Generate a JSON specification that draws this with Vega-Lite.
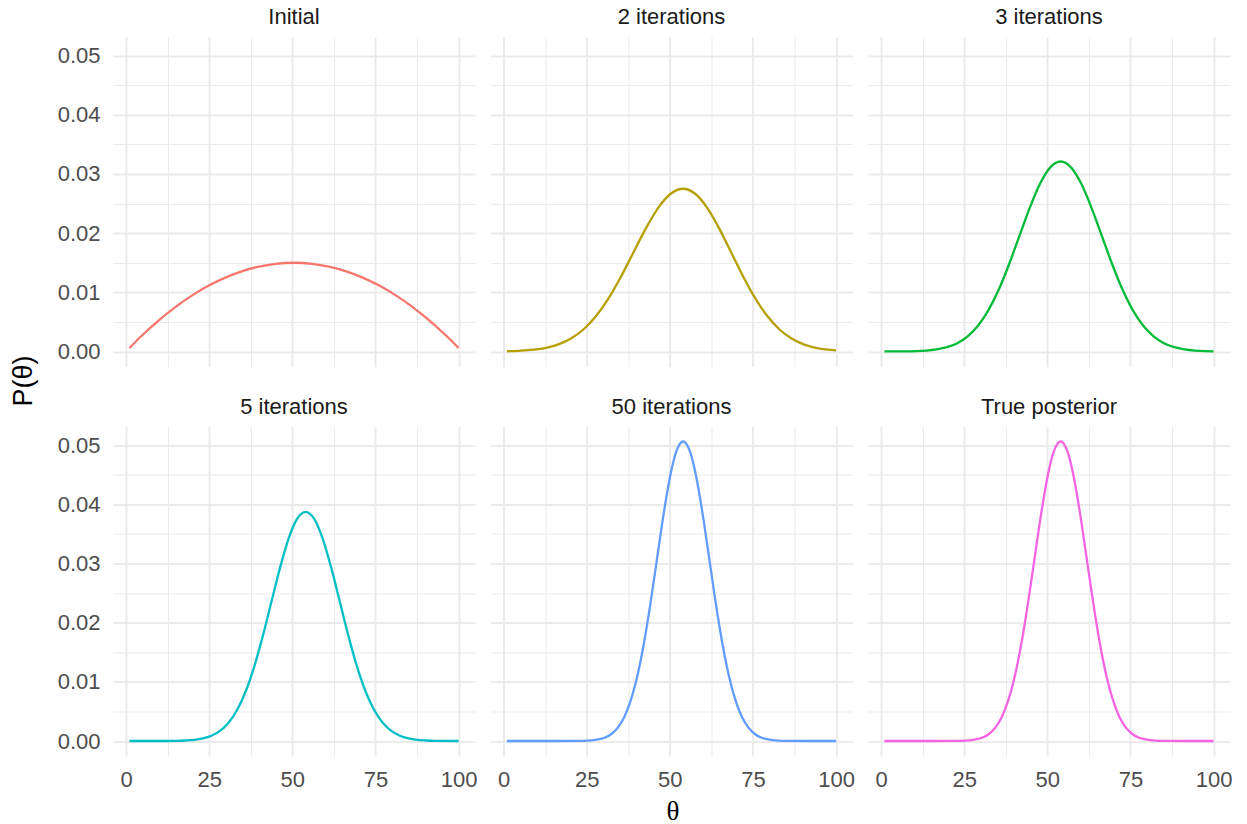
{
  "$schema": "https://vega.github.io/schema/vega-lite/v6.json",
  "padding": {"left": 10, "top": 6, "right": 5, "bottom": 2},
  "background": "white",
  "title": {
    "text": "θ",
    "orient": "bottom",
    "anchor": "middle",
    "frame": "bounds",
    "dx": 52,
    "font": "Liberation Serif",
    "fontSize": 27,
    "fontWeight": "normal",
    "color": "#000000",
    "offset": 9
  },
  "config": {
    "font": "Liberation Sans",
    "view": {"stroke": null}
  },
  "datasets": {
    "curves": [
      {"panel": "Initial", "theta": 1, "p": 0.0006},
      {"panel": "Initial", "theta": 5, "p": 0.00283},
      {"panel": "Initial", "theta": 10, "p": 0.00536},
      {"panel": "Initial", "theta": 15, "p": 0.00759},
      {"panel": "Initial", "theta": 20, "p": 0.00953},
      {"panel": "Initial", "theta": 25, "p": 0.01118},
      {"panel": "Initial", "theta": 30, "p": 0.01253},
      {"panel": "Initial", "theta": 35, "p": 0.01359},
      {"panel": "Initial", "theta": 40, "p": 0.01435},
      {"panel": "Initial", "theta": 45, "p": 0.01482},
      {"panel": "Initial", "theta": 50.5, "p": 0.015},
      {"panel": "Initial", "theta": 56, "p": 0.01482},
      {"panel": "Initial", "theta": 61, "p": 0.01435},
      {"panel": "Initial", "theta": 66, "p": 0.01359},
      {"panel": "Initial", "theta": 71, "p": 0.01253},
      {"panel": "Initial", "theta": 76, "p": 0.01118},
      {"panel": "Initial", "theta": 81, "p": 0.00953},
      {"panel": "Initial", "theta": 86, "p": 0.00759},
      {"panel": "Initial", "theta": 91, "p": 0.00536},
      {"panel": "Initial", "theta": 96, "p": 0.00283},
      {"panel": "Initial", "theta": 100, "p": 0.0006},

      {"panel": "2 iterations", "theta": 1, "p": 0.00005},
      {"panel": "2 iterations", "theta": 5.25, "p": 0.00014},
      {"panel": "2 iterations", "theta": 9, "p": 0.00031},
      {"panel": "2 iterations", "theta": 12.75, "p": 0.00063},
      {"panel": "2 iterations", "theta": 16.5, "p": 0.00121},
      {"panel": "2 iterations", "theta": 20.25, "p": 0.00219},
      {"panel": "2 iterations", "theta": 24, "p": 0.00372},
      {"panel": "2 iterations", "theta": 27.75, "p": 0.00595},
      {"panel": "2 iterations", "theta": 31.5, "p": 0.00893},
      {"panel": "2 iterations", "theta": 35.25, "p": 0.01259},
      {"panel": "2 iterations", "theta": 39, "p": 0.01668},
      {"panel": "2 iterations", "theta": 42.75, "p": 0.02076},
      {"panel": "2 iterations", "theta": 46.5, "p": 0.02427},
      {"panel": "2 iterations", "theta": 50.25, "p": 0.02665},
      {"panel": "2 iterations", "theta": 54, "p": 0.0275},
      {"panel": "2 iterations", "theta": 57.625, "p": 0.02665},
      {"panel": "2 iterations", "theta": 61.25, "p": 0.02427},
      {"panel": "2 iterations", "theta": 64.875, "p": 0.02076},
      {"panel": "2 iterations", "theta": 68.5, "p": 0.01668},
      {"panel": "2 iterations", "theta": 72.125, "p": 0.01259},
      {"panel": "2 iterations", "theta": 75.75, "p": 0.00893},
      {"panel": "2 iterations", "theta": 79.375, "p": 0.00595},
      {"panel": "2 iterations", "theta": 83, "p": 0.00372},
      {"panel": "2 iterations", "theta": 86.625, "p": 0.00219},
      {"panel": "2 iterations", "theta": 90.25, "p": 0.00121},
      {"panel": "2 iterations", "theta": 93.875, "p": 0.00063},
      {"panel": "2 iterations", "theta": 97.5, "p": 0.00031},
      {"panel": "2 iterations", "theta": 100, "p": 0.00018},

      {"panel": "3 iterations", "theta": 1, "p": 0.00001},
      {"panel": "3 iterations", "theta": 7.39, "p": 0.00003},
      {"panel": "3 iterations", "theta": 10.5, "p": 0.00007},
      {"panel": "3 iterations", "theta": 13.6, "p": 0.00016},
      {"panel": "3 iterations", "theta": 16.71, "p": 0.00036},
      {"panel": "3 iterations", "theta": 19.82, "p": 0.00073},
      {"panel": "3 iterations", "theta": 22.93, "p": 0.00141},
      {"panel": "3 iterations", "theta": 26.03, "p": 0.00256},
      {"panel": "3 iterations", "theta": 29.14, "p": 0.00434},
      {"panel": "3 iterations", "theta": 32.25, "p": 0.00694},
      {"panel": "3 iterations", "theta": 35.36, "p": 0.01042},
      {"panel": "3 iterations", "theta": 38.46, "p": 0.0147},
      {"panel": "3 iterations", "theta": 41.57, "p": 0.01947},
      {"panel": "3 iterations", "theta": 44.68, "p": 0.02423},
      {"panel": "3 iterations", "theta": 47.79, "p": 0.02833},
      {"panel": "3 iterations", "theta": 50.89, "p": 0.03111},
      {"panel": "3 iterations", "theta": 54, "p": 0.0321},
      {"panel": "3 iterations", "theta": 57.11, "p": 0.03111},
      {"panel": "3 iterations", "theta": 60.22, "p": 0.02833},
      {"panel": "3 iterations", "theta": 63.32, "p": 0.02423},
      {"panel": "3 iterations", "theta": 66.43, "p": 0.01947},
      {"panel": "3 iterations", "theta": 69.54, "p": 0.0147},
      {"panel": "3 iterations", "theta": 72.65, "p": 0.01042},
      {"panel": "3 iterations", "theta": 75.75, "p": 0.00694},
      {"panel": "3 iterations", "theta": 78.86, "p": 0.00434},
      {"panel": "3 iterations", "theta": 81.97, "p": 0.00256},
      {"panel": "3 iterations", "theta": 85.08, "p": 0.00141},
      {"panel": "3 iterations", "theta": 88.18, "p": 0.00073},
      {"panel": "3 iterations", "theta": 91.29, "p": 0.00036},
      {"panel": "3 iterations", "theta": 94.4, "p": 0.00016},
      {"panel": "3 iterations", "theta": 97.51, "p": 0.00007},
      {"panel": "3 iterations", "theta": 100, "p": 0.00004},

      {"panel": "5 iterations", "theta": 1, "p": 0},
      {"panel": "5 iterations", "theta": 10, "p": 0},
      {"panel": "5 iterations", "theta": 15.34, "p": 0.00003},
      {"panel": "5 iterations", "theta": 17.92, "p": 0.00009},
      {"panel": "5 iterations", "theta": 20.49, "p": 0.0002},
      {"panel": "5 iterations", "theta": 23.07, "p": 0.00043},
      {"panel": "5 iterations", "theta": 25.65, "p": 0.00088},
      {"panel": "5 iterations", "theta": 28.23, "p": 0.0017},
      {"panel": "5 iterations", "theta": 30.8, "p": 0.00308},
      {"panel": "5 iterations", "theta": 33.38, "p": 0.00524},
      {"panel": "5 iterations", "theta": 35.96, "p": 0.00837},
      {"panel": "5 iterations", "theta": 38.54, "p": 0.01257},
      {"panel": "5 iterations", "theta": 41.11, "p": 0.01772},
      {"panel": "5 iterations", "theta": 43.69, "p": 0.02347},
      {"panel": "5 iterations", "theta": 46.27, "p": 0.02921},
      {"panel": "5 iterations", "theta": 48.85, "p": 0.03415},
      {"panel": "5 iterations", "theta": 51.42, "p": 0.03751},
      {"panel": "5 iterations", "theta": 54, "p": 0.0387},
      {"panel": "5 iterations", "theta": 56.58, "p": 0.03751},
      {"panel": "5 iterations", "theta": 59.15, "p": 0.03415},
      {"panel": "5 iterations", "theta": 61.73, "p": 0.02921},
      {"panel": "5 iterations", "theta": 64.31, "p": 0.02347},
      {"panel": "5 iterations", "theta": 66.89, "p": 0.01772},
      {"panel": "5 iterations", "theta": 69.46, "p": 0.01257},
      {"panel": "5 iterations", "theta": 72.04, "p": 0.00837},
      {"panel": "5 iterations", "theta": 74.62, "p": 0.00524},
      {"panel": "5 iterations", "theta": 77.2, "p": 0.00308},
      {"panel": "5 iterations", "theta": 79.78, "p": 0.0017},
      {"panel": "5 iterations", "theta": 82.35, "p": 0.00088},
      {"panel": "5 iterations", "theta": 84.93, "p": 0.00043},
      {"panel": "5 iterations", "theta": 87.51, "p": 0.0002},
      {"panel": "5 iterations", "theta": 90.08, "p": 0.00009},
      {"panel": "5 iterations", "theta": 92.66, "p": 0.00003},
      {"panel": "5 iterations", "theta": 100, "p": 0},

      {"panel": "50 iterations", "theta": 1, "p": 0},
      {"panel": "50 iterations", "theta": 15, "p": 0},
      {"panel": "50 iterations", "theta": 24.45, "p": 0.00004},
      {"panel": "50 iterations", "theta": 26.42, "p": 0.00011},
      {"panel": "50 iterations", "theta": 28.39, "p": 0.00026},
      {"panel": "50 iterations", "theta": 30.36, "p": 0.00056},
      {"panel": "50 iterations", "theta": 32.33, "p": 0.00115},
      {"panel": "50 iterations", "theta": 34.3, "p": 0.00222},
      {"panel": "50 iterations", "theta": 36.27, "p": 0.00403},
      {"panel": "50 iterations", "theta": 38.24, "p": 0.00685},
      {"panel": "50 iterations", "theta": 40.21, "p": 0.01094},
      {"panel": "50 iterations", "theta": 42.18, "p": 0.01643},
      {"panel": "50 iterations", "theta": 44.15, "p": 0.02316},
      {"panel": "50 iterations", "theta": 46.12, "p": 0.03069},
      {"panel": "50 iterations", "theta": 48.09, "p": 0.03819},
      {"panel": "50 iterations", "theta": 50.06, "p": 0.04465},
      {"panel": "50 iterations", "theta": 52.03, "p": 0.04904},
      {"panel": "50 iterations", "theta": 54, "p": 0.0506},
      {"panel": "50 iterations", "theta": 55.97, "p": 0.04904},
      {"panel": "50 iterations", "theta": 57.94, "p": 0.04465},
      {"panel": "50 iterations", "theta": 59.91, "p": 0.03819},
      {"panel": "50 iterations", "theta": 61.88, "p": 0.03069},
      {"panel": "50 iterations", "theta": 63.85, "p": 0.02316},
      {"panel": "50 iterations", "theta": 65.82, "p": 0.01643},
      {"panel": "50 iterations", "theta": 67.79, "p": 0.01094},
      {"panel": "50 iterations", "theta": 69.76, "p": 0.00685},
      {"panel": "50 iterations", "theta": 71.73, "p": 0.00403},
      {"panel": "50 iterations", "theta": 73.7, "p": 0.00222},
      {"panel": "50 iterations", "theta": 75.67, "p": 0.00115},
      {"panel": "50 iterations", "theta": 77.64, "p": 0.00056},
      {"panel": "50 iterations", "theta": 79.61, "p": 0.00026},
      {"panel": "50 iterations", "theta": 81.58, "p": 0.00011},
      {"panel": "50 iterations", "theta": 83.55, "p": 0.00004},
      {"panel": "50 iterations", "theta": 93, "p": 0},
      {"panel": "50 iterations", "theta": 100, "p": 0},

      {"panel": "True posterior", "theta": 1, "p": 0},
      {"panel": "True posterior", "theta": 15, "p": 0},
      {"panel": "True posterior", "theta": 24.45, "p": 0.00004},
      {"panel": "True posterior", "theta": 26.42, "p": 0.00011},
      {"panel": "True posterior", "theta": 28.39, "p": 0.00026},
      {"panel": "True posterior", "theta": 30.36, "p": 0.00056},
      {"panel": "True posterior", "theta": 32.33, "p": 0.00115},
      {"panel": "True posterior", "theta": 34.3, "p": 0.00222},
      {"panel": "True posterior", "theta": 36.27, "p": 0.00403},
      {"panel": "True posterior", "theta": 38.24, "p": 0.00685},
      {"panel": "True posterior", "theta": 40.21, "p": 0.01094},
      {"panel": "True posterior", "theta": 42.18, "p": 0.01643},
      {"panel": "True posterior", "theta": 44.15, "p": 0.02316},
      {"panel": "True posterior", "theta": 46.12, "p": 0.03069},
      {"panel": "True posterior", "theta": 48.09, "p": 0.03819},
      {"panel": "True posterior", "theta": 50.06, "p": 0.04465},
      {"panel": "True posterior", "theta": 52.03, "p": 0.04904},
      {"panel": "True posterior", "theta": 54, "p": 0.0506},
      {"panel": "True posterior", "theta": 55.97, "p": 0.04904},
      {"panel": "True posterior", "theta": 57.94, "p": 0.04465},
      {"panel": "True posterior", "theta": 59.91, "p": 0.03819},
      {"panel": "True posterior", "theta": 61.88, "p": 0.03069},
      {"panel": "True posterior", "theta": 63.85, "p": 0.02316},
      {"panel": "True posterior", "theta": 65.82, "p": 0.01643},
      {"panel": "True posterior", "theta": 67.79, "p": 0.01094},
      {"panel": "True posterior", "theta": 69.76, "p": 0.00685},
      {"panel": "True posterior", "theta": 71.73, "p": 0.00403},
      {"panel": "True posterior", "theta": 73.7, "p": 0.00222},
      {"panel": "True posterior", "theta": 75.67, "p": 0.00115},
      {"panel": "True posterior", "theta": 77.64, "p": 0.00056},
      {"panel": "True posterior", "theta": 79.61, "p": 0.00026},
      {"panel": "True posterior", "theta": 81.58, "p": 0.00011},
      {"panel": "True posterior", "theta": 83.55, "p": 0.00004},
      {"panel": "True posterior", "theta": 93, "p": 0},
      {"panel": "True posterior", "theta": 100, "p": 0}
    ]
  },
  "data": {"name": "curves"},
  "facet": {
    "field": "panel",
    "type": "nominal",
    "sort": ["Initial", "2 iterations", "3 iterations", "5 iterations", "50 iterations", "True posterior"],
    "title": "P(θ)",
    "header": {
      "titleOrient": "left",
      "titleAngle": -90,
      "titleFont": "Liberation Sans",
      "titleFontSize": 27,
      "titleFontWeight": "normal",
      "titleColor": "#000000",
      "titlePadding": -8,
      "labelFont": "Liberation Sans",
      "labelFontSize": 22,
      "labelColor": "#1A1A1A",
      "labelPadding": 8
    }
  },
  "columns": 3,
  "spacing": {"column": 15.5, "row": 28.5},
  "spec": {
    "width": 362,
    "height": 329.5,
    "mark": {"type": "line", "strokeWidth": 2.3, "interpolate": "monotone"},
    "encoding": {
      "x": {
        "field": "theta",
        "type": "quantitative",
        "scale": {"domain": [-3.95, 104.95], "nice": false, "zero": false},
        "axis": {
          "title": null,
          "values": [0, 12.5, 25, 37.5, 50, 62.5, 75, 87.5, 100],
          "labelExpr": "datum.value % 25 == 0 ? datum.label : ''",
          "labelFontSize": 22,
          "labelColor": "#4D4D4D",
          "labelPadding": 13,
          "labelFlush": false,
          "labelOverlap": false,
          "labelBound": false,
          "ticks": false,
          "tickSize": 0,
          "domain": false,
          "gridColor": "#EBEBEB",
          "gridWidth": {"condition": {"test": "datum.value % 25 != 0", "value": 1}, "value": 2}
        }
      },
      "y": {
        "field": "p",
        "type": "quantitative",
        "scale": {"domain": [-0.00253, 0.05313], "nice": false, "zero": false},
        "axis": {
          "title": null,
          "values": [0, 0.005, 0.01, 0.015, 0.02, 0.025, 0.03, 0.035, 0.04, 0.045, 0.05],
          "labelExpr": "abs(datum.value * 100 - round(datum.value * 100)) < 0.000001 ? format(datum.value, '.2f') : ''",
          "labelFontSize": 22,
          "labelColor": "#4D4D4D",
          "labelPadding": 13,
          "labelFlush": false,
          "labelOverlap": false,
          "labelBound": false,
          "ticks": false,
          "tickSize": 0,
          "domain": false,
          "gridColor": "#EBEBEB",
          "gridWidth": {"condition": {"test": "abs(datum.value * 100 - round(datum.value * 100)) > 0.000001", "value": 1}, "value": 2}
        }
      },
      "color": {
        "field": "panel",
        "type": "nominal",
        "scale": {
          "domain": ["Initial", "2 iterations", "3 iterations", "5 iterations", "50 iterations", "True posterior"],
          "range": ["#F8766D", "#B79F00", "#00BA38", "#00BFC4", "#619CFF", "#F564E3"]
        },
        "legend": null
      }
    }
  }
}
